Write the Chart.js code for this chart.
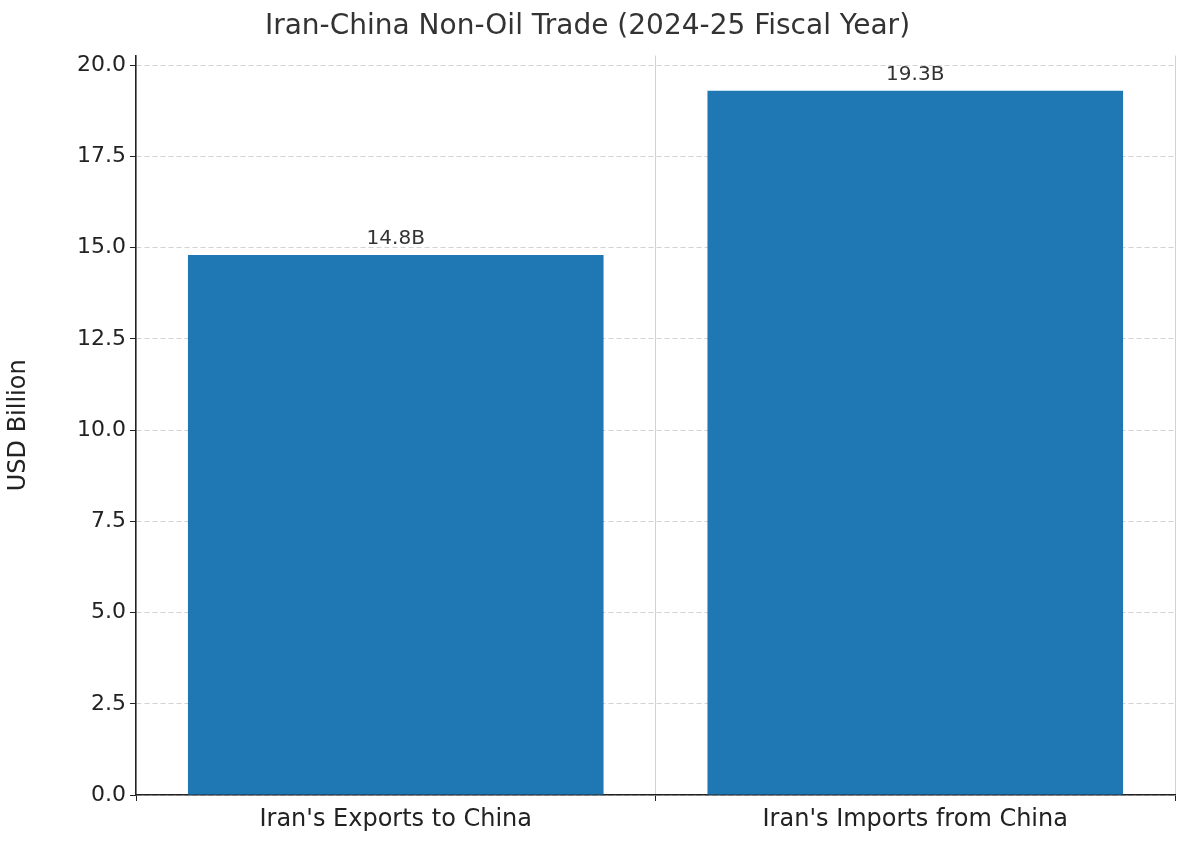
<!DOCTYPE html>
<html><head><meta charset="utf-8">
<script src="https://cdn.jsdelivr.net/npm/chart.js@4/dist/chart.umd.min.js"></script>
<style>html,body{margin:0;padding:0;background:#fff}#w{width:1200px;height:857px}</style>
</head><body><div id="w"><canvas id="c"></canvas></div>
<script>
const categories = ["Iran's Exports to China", "Iran's Imports from China"];
const values = [14.8, 19.3];
const valueLabels = ["14.8B", "19.3B"];
const yTicks = [0, 2.5, 5, 7.5, 10, 12.5, 15, 17.5, 20];
const FONT = "'DejaVu Sans', sans-serif";
const labelPlugin = {
  id: 'lbl',
  afterDatasetsDraw(chart) {
    const ctx = chart.ctx;
    chart.getDatasetMeta(0).data.forEach((bar, i) => {
      ctx.save();
      ctx.font = "20px " + FONT;
      ctx.fillStyle = '#333';
      ctx.textAlign = 'center';
      ctx.textBaseline = 'bottom';
      ctx.fillText(valueLabels[i], bar.x, bar.y - 6);
      ctx.restore();
    });
  }
};
new Chart(document.getElementById('c'), {
  type: 'bar',
  data: { labels: categories, datasets: [{ data: values, backgroundColor: '#1f77b4', categoryPercentage: 0.8, barPercentage: 1 }] },
  options: {
    responsive: true, maintainAspectRatio: false, animation: false,
    layout: { padding: { left: 0, right: 25, top: 10, bottom: 0 } },
    plugins: {
      legend: { display: false }, tooltip: { enabled: false },
      title: { display: true, text: 'Iran-China Non-Oil Trade (2024-25 Fiscal Year)', color: '#333', font: { family: FONT, size: 28, weight: 'normal' }, padding: { top: 0, bottom: 12 } }
    },
    scales: {
      x: {
        z: 1,
        grid: { color: 'rgba(180,180,180,0.6)', tickLength: 6, drawTicks: true, tickColor: '#222' },
        border: { color: '#222', width: 1.5, dash: [] },
        ticks: { color: '#222', font: { family: FONT, size: 24 }, padding: 4 },
        afterFit(s) { s.height = 62; }
      },
      y: {
        z: 1, min: 0, max: 20.265,
        afterBuildTicks(s) { s.ticks = yTicks.map(v => ({ value: v })); },
        grid: { color: 'rgba(180,180,180,0.6)', tickLength: 6, tickColor: '#222' },
        border: { color: '#222', width: 1.5, dash: [5, 3] },
        ticks: { color: '#222', font: { family: FONT, size: 22 }, padding: 4, callback: v => v.toFixed(1) },
        title: { display: true, text: 'USD Billion', color: '#222', font: { family: FONT, size: 24 } },
        afterFit(s) { s.width = 136; }
      }
    }
  },
  plugins: [labelPlugin]
});
</script></body></html>
